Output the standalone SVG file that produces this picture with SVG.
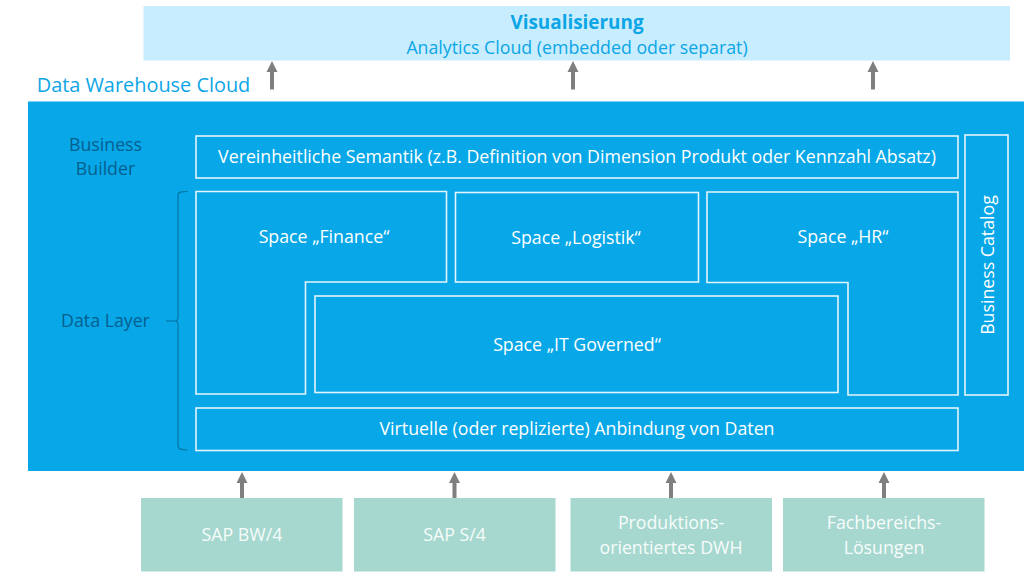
<svg xmlns="http://www.w3.org/2000/svg" width="1024" height="572" viewBox="0 0 1024 572">
<style>
text{font-family:"Open Sans","Noto Sans","Liberation Sans",sans-serif;font-size:17.750px;text-anchor:middle;fill:#fff}
.box{fill:#07a7e8;stroke:#e3f5fc;stroke-width:1.6}
.src{fill:#a6d8cf}
.srct{fill:#f7fcfb}
.dark{fill:#05608f}
.blue{fill:#0ca6e6}
.arr{fill:#7f7f7f}
</style>
<rect width="1024" height="572" fill="#fff"/>
<g id="visualisierung"><rect x="143.500" y="6" width="866.500" height="54.500" fill="#c8edfe"/>
<text class="blue" x="577" y="28.500" style="font-size:18.900px;font-weight:700">Visualisierung</text>
<text class="blue" x="577" y="53.500">Analytics Cloud (embedded oder separat)</text></g>
<g id="dwc-title"><text class="blue" x="143.500" y="91.500" style="font-size:19.900px">Data Warehouse Cloud</text></g>
<g id="dwc"><rect x="28" y="101.500" width="996" height="369.500" fill="#07a7e8"/></g>
<g id="business-builder"><text class="dark" x="105.500" y="151">Business</text><text class="dark" x="105.500" y="175">Builder</text></g>
<g id="data-layer"><text class="dark" x="105.500" y="327">Data Layer</text></g>
<g id="semantik"><rect class="box" x="196" y="136" width="762" height="42"/><text x="577" y="163">Vereinheitliche Semantik (z.B. Definition von Dimension Produkt oder Kennzahl Absatz)</text></g>
<g id="catalog"><rect class="box" x="965" y="135" width="43" height="260"/><text transform="translate(993.500 265) rotate(-90)">Business Catalog</text></g>
<g id="finance"><path class="box" d="M196 191.500H446.500V282H305.500V394H196Z"/><text x="324" y="243">Space „Finance“</text></g>
<g id="logistik"><rect class="box" x="455.500" y="192.500" width="243" height="89.500"/><text x="576" y="243.500">Space „Logistik“</text></g>
<g id="hr"><path class="box" d="M707 192H958V395H848V282.500H707Z"/><text x="843" y="243">Space „HR“</text></g>
<g id="it"><rect class="box" x="315" y="296" width="523" height="96.500"/><text x="577" y="351">Space „IT Governed“</text></g>
<g id="virtuelle"><rect class="box" x="196" y="408" width="762" height="42.500"/><text x="577" y="435">Virtuelle (oder replizierte) Anbindung von Daten</text></g>
<g id="src-bw"><rect class="src" x="141" y="498" width="201.500" height="73.500"/><text class="srct" x="242" y="541">SAP BW/4</text></g>
<g id="src-s4"><rect class="src" x="354" y="498" width="201.500" height="73.500"/><text class="srct" x="454.500" y="541">SAP S/4</text></g>
<g id="src-dwh"><rect class="src" x="570.500" y="498" width="201.500" height="73.500"/><text class="srct" x="671" y="529">Produktions-</text><text class="srct" x="671" y="553.500">orientiertes DWH</text></g>
<g id="src-fach"><rect class="src" x="783" y="498" width="201.500" height="73.500"/><text class="srct" x="884" y="529">Fachbereichs-</text><text class="srct" x="884" y="553.500">Lösungen</text></g>
<g id="connectors">
<path class="arr" d="M272 61l5.500 11h-3.500v17.500h-4v-17.500h-3.500z"/>
<path class="arr" d="M573 61l5.500 11h-3.500v17.500h-4v-17.500h-3.500z"/>
<path class="arr" d="M873 61l5.500 11h-3.500v17.500h-4v-17.500h-3.500z"/>
<path class="arr" d="M242 472l5.500 11h-3.500v15h-4v-15h-3.500z"/>
<path class="arr" d="M454.500 472l5.500 11h-3.500v15h-4v-15h-3.500z"/>
<path class="arr" d="M671 472l5.500 11h-3.500v15h-4v-15h-3.500z"/>
<path class="arr" d="M884 472l5.500 11h-3.500v15h-4v-15h-3.500z"/>
<path d="M187.500 191.500C181 191.500 178 192 178 195V317C178 320 177 321 175 321H166M175 321C177 321 178 322 178 325V446C178 449 181 450 187.500 450" fill="none" stroke="#05709f" stroke-width="1.100"/>
</g>
</svg>
